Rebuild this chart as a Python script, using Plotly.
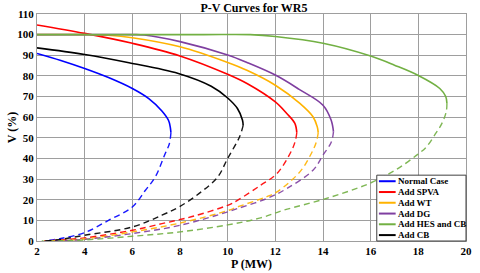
import plotly.graph_objects as go

# ---------------- data ----------------
names = ["Normal Case", "Add SPVA", "Add WT", "Add DG", "Add HES and CB", "Add CB"]
colors = ["#0000FF", "#FF0000", "#FFB300", "#7F3FA0", "#72B043", "#000000"]

# upper (stable, solid) branches
normal_up_p = [2, 3, 4, 5, 6, 6.69, 7.24, 7.52, 7.59, 7.62]
normal_up_v = [90.9, 87.5, 83.6, 79.2, 73.9, 69.0, 63.0, 58.4, 55.3, 52.5]
spva_up_p = [2, 4, 6, 8, 10, 10.83, 12, 12.48, 12.82, 12.9]
spva_up_v = [104.7, 100.6, 95.8, 89.7, 80.8, 76.2, 67.4, 61.8, 57, 52.5]
wt_up_p = [2, 4, 5, 6, 8, 10, 10.83, 12, 13.03, 13.58, 13.76, 13.8]
wt_up_v = [100, 100, 99.7, 98.5, 94.1, 86.5, 82.6, 75.5, 66.7, 60.2, 55.3, 52.5]
dg_up_p = [2, 4, 6, 6.5, 8, 10, 10.83, 12, 13, 14, 14.34, 14.44]
dg_up_v = [100, 100, 100, 99.8, 96.6, 90.1, 86.4, 80.4, 73.5, 65.8, 58.6, 53]
hes_up_p = [2, 6, 9, 10.95, 12, 14, 16, 17, 18, 18.9, 19.15, 19.2]
hes_up_v = [100, 100, 100, 100, 99.1, 95.8, 89.6, 85.2, 80.2, 73.9, 70, 66.7]
cb_up_p = [2, 4, 5.86, 7.93, 9.31, 10, 10.41, 10.62, 10.65]
cb_up_v = [93.6, 90.4, 86.4, 81.2, 75.0, 69.3, 64.2, 58.6, 56]

# lower (unstable, dashed) branches
normal_lo_p = [7.62, 7.55, 7.38, 6.96, 6.55, 6.0, 5.0, 4.0, 3.0, 2.3]
normal_lo_v = [52.5, 47, 42.4, 31, 24.6, 16.5, 10, 4.1, 1.2, 0]
spva_lo_p = [12.9, 12.85, 12.69, 12.07, 11.38, 10.41, 10.0, 8.62, 8, 7.24, 6, 4, 3, 2.3]
spva_lo_v = [52.5, 49, 44, 32.7, 27, 19.7, 17.3, 12.2, 10.4, 8.4, 5.2, 1.5, 0.5, 0]
wt_lo_p = [13.8, 13.72, 13.51, 13.03, 12.07, 11.65, 10.41, 10, 8, 6, 4, 3, 2.3]
wt_lo_v = [52.5, 48, 42.4, 33.5, 23.8, 21.5, 16.5, 14.7, 8.7, 4.4, 1.0, 0.3, 0]
dg_lo_p = [14.44, 14.35, 14.0, 13.58, 12.48, 11.65, 10.41, 10, 8, 6, 4, 3, 2.3]
dg_lo_v = [53, 48, 41.6, 34.3, 25.4, 20.6, 15.7, 14.1, 7.6, 3.6, 0.8, 0.2, 0]
hes_lo_p = [19.2, 19.17, 18.99, 18.75, 18.34, 17.93, 17.03, 15.93, 14.14, 12.34, 11.38, 10, 8, 6, 4, 3, 2.2]
hes_lo_v = [66.7, 62.6, 57, 52.5, 45.6, 41.6, 34.3, 27.8, 20.6, 14.9, 11.2, 7.8, 4.4, 2.3, 0.5, 0.1, 0]
cb_lo_p = [10.65, 10.5, 10.0, 9.58, 8.89, 8.0, 7.24, 6.0, 4.0, 3.0, 2.3]
cb_lo_v = [56, 50.5, 40, 31, 23.8, 16.8, 12.5, 6.8, 2.8, 0.8, 0]

x_ticks = [2, 4, 6, 8, 10, 12, 14, 16, 18, 20]
y_ticks = [0, 10, 20, 30, 40, 50, 60, 70, 80, 90, 100, 110]

upper = [(normal_up_p, normal_up_v), (spva_up_p, spva_up_v), (wt_up_p, wt_up_v),
         (dg_up_p, dg_up_v), (hes_up_p, hes_up_v), (cb_up_p, cb_up_v)]
lower = [(normal_lo_p, normal_lo_v), (spva_lo_p, spva_lo_v), (wt_lo_p, wt_lo_v),
         (dg_lo_p, dg_lo_v), (hes_lo_p, hes_lo_v), (cb_lo_p, cb_lo_v)]

FONT = "Liberation Serif"

fig = go.Figure()
for name, col, (up_p, up_v), (lo_p, lo_v) in zip(names, colors, upper, lower):
    fig.add_trace(go.Scatter(x=up_p, y=up_v, mode="lines", name=name, legendgroup=name,
                             line=dict(color=col, width=1.6, shape="spline", smoothing=1.0),
                             showlegend=False))
    fig.add_trace(go.Scatter(x=lo_p, y=lo_v, mode="lines", name=name, legendgroup=name,
                             line=dict(color=col, width=1.4, dash="6px,4px", shape="spline", smoothing=1.0),
                             showlegend=False, opacity=0.9))

axis_common = dict(showgrid=True, gridcolor="#9E9E9E", gridwidth=1, zeroline=False,
                   showline=True, linecolor="#9E9E9E", linewidth=1, mirror=True,
                   ticks="", tickfont=dict(family=FONT, size=11, color="black", weight="bold"))
fig.update_xaxes(range=[2, 20], tickvals=x_ticks, **axis_common)
fig.update_yaxes(range=[0, 110], tickvals=y_ticks, **axis_common)

# manual compact legend (lower right, inside plot)
leg_x0, leg_x1, leg_y0, leg_y1 = 0.792, 1.0, 0.0, 0.29
shapes = [dict(type="rect", xref="paper", yref="paper", x0=leg_x0, x1=leg_x1, y0=leg_y0, y1=leg_y1,
               fillcolor="white", line=dict(color="#404040", width=1), layer="above")]
annotations = []
item_py = [181, 191.8, 202.5, 213.3, 224, 234.8]
for name, col, py in zip(names, colors, item_py):
    yy = (240.7 - py) / 226.7
    shapes.append(dict(type="line", xref="paper", yref="paper", x0=0.797, x1=0.836, y0=yy, y1=yy,
                       line=dict(color=col, width=2), layer="above"))
    annotations.append(dict(xref="paper", yref="paper", x=0.836, y=yy, text="<b>%s</b>" % name,
                            showarrow=False, xanchor="left", yanchor="middle",
                            font=dict(family=FONT, size=9, color="black")))

annotations.append(dict(xref="paper", yref="paper", x=0.5, y=-0.0997,
                        text="<b>P (MW)</b>", showarrow=False, xanchor="center", yanchor="middle",
                        font=dict(family=FONT, size=12, color="black")))
annotations.append(dict(xref="paper", yref="paper", x=-0.059, xanchor="center", y=0.5,
                        text="<b>V (%)</b>", showarrow=False, textangle=-90, yanchor="middle",
                        font=dict(family=FONT, size=12, color="black")))

fig.update_layout(
    width=480, height=273,
    margin=dict(l=37, r=8, t=14, b=32),
    plot_bgcolor="white", paper_bgcolor="white",
    title=dict(text="<b>P-V Curves for WR5</b>", x=0.529, xanchor="center", y=0.972, yanchor="middle",
               font=dict(family=FONT, size=12, color="black")),
    shapes=shapes, annotations=annotations, showlegend=False,
)

fig.write_html("out.html", config={"displayModeBar": False},
               post_script="document.body.style.margin='0';document.body.style.padding='0';")
